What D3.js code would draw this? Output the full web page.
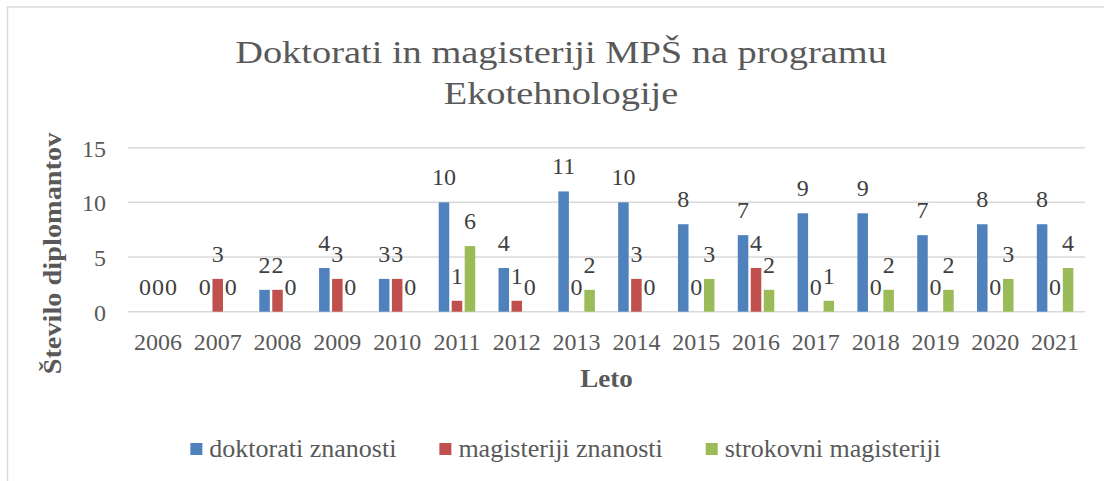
<!DOCTYPE html>
<html>
<head>
<meta charset="utf-8">
<script src="https://cdn.jsdelivr.net/npm/d3@7"></script>
<style>
  html, body { margin: 0; padding: 0; background: #fff; }
  svg { display: block; }
  svg text { font-family: "Liberation Serif", "DejaVu Serif", serif; }
</style>
</head>
<body>
<div id="app"></div>
<script>
const years = ['2006','2007','2008','2009','2010','2011','2012','2013','2014','2015','2016','2017','2018','2019','2020','2021']
const seriesNames = ['doktorati znanosti', 'magisteriji znanosti', 'strokovni magisteriji']
const doktorati = [0, 0, 2, 4, 3, 10, 4, 11, 10, 8, 7, 9, 9, 7, 8, 8]
const magisteriji = [0, 3, 2, 3, 3, 1, 1, 0, 3, 0, 4, 0, 0, 0, 0, 0]
const strokovni = [0, 0, 0, 0, 0, 6, 0, 2, 0, 3, 2, 1, 2, 2, 3, 4]
const yTicks = [0, 5, 10, 15]
const colors = ['#4F81BD', '#C0504D', '#9BBB59']

const W = 1104, H = 481
const plot = { left: 128, right: 1085, top: 147.7, bottom: 311.7 }

const svg = d3.select('#app').append('svg').attr('width', W).attr('height', H)

// chart frame
svg.append('rect')
  .attr('x', 7.5).attr('y', 7)
  .attr('width', W + 20).attr('height', H + 20)
  .attr('fill', 'none').attr('stroke', '#d9d9d9').attr('stroke-width', 1.5)

const x = d3.scaleBand().domain(years).range([plot.left, plot.right]).padding(0)
const groupW = 36.5
const xs = d3.scaleBand().domain(seriesNames).range([0, groupW]).paddingInner(0.19).paddingOuter(0)
const y = d3.scaleLinear().domain([0, 15]).range([plot.bottom, plot.top])

// gridlines
svg.append('g').selectAll('line').data(yTicks).enter().append('line')
  .attr('x1', plot.left).attr('x2', plot.right)
  .attr('y1', d => y(d)).attr('y2', d => y(d))
  .attr('stroke', '#d9d9d9').attr('stroke-width', 1.5)

// y tick labels
svg.append('g').selectAll('text').data(yTicks).enter().append('text')
  .attr('x', 106).attr('y', d => y(d) + 9)
  .attr('text-anchor', 'end')
  .attr('font-size', 24).attr('fill', '#595959')
  .text(d => d)

// x labels
svg.append('g').selectAll('text').data(years).enter().append('text')
  .attr('x', d => x(d) + x.bandwidth() / 2).attr('y', 350)
  .attr('text-anchor', 'middle')
  .attr('font-size', 24).attr('fill', '#595959')
  .text(d => d)

const table = years.map((yr, i) => ({
  year: yr,
  values: [doktorati[i], magisteriji[i], strokovni[i]].map((v, j) => ({ key: seriesNames[j], v, j }))
}))

const groups = svg.append('g').selectAll('g').data(table).enter().append('g')
  .attr('transform', d => `translate(${x(d.year) + (x.bandwidth() - groupW) / 2},0)`)

groups.selectAll('rect').data(d => d.values).enter().append('rect')
  .attr('x', d => xs(d.key)).attr('width', xs.bandwidth())
  .attr('y', d => y(d.v)).attr('height', d => y(0) - y(d.v))
  .attr('fill', d => colors[d.j])

groups.selectAll('text').data(d => d.values).enter().append('text')
  .attr('x', d => xs(d.key) + xs.bandwidth() / 2)
  .attr('y', d => y(d.v) - 17)
  .attr('text-anchor', 'middle')
  .attr('font-size', 24).attr('fill', '#404040')
  .text(d => d.v)

// stretch text horizontally (reference font is wider than Times)
function widen(sel, k) {
  sel.each(function() {
    const len = this.getComputedTextLength()
    d3.select(this).attr('textLength', len * k).attr('lengthAdjust', 'spacingAndGlyphs')
  })
}

// title
const title = svg.append('g').attr('fill', '#595959').attr('font-size', 32).attr('text-anchor', 'middle')
title.append('text').attr('x', 561).attr('y', 63).text('Doktorati in magisteriji MPŠ na programu')
title.append('text').attr('x', 561).attr('y', 104).text('Ekotehnologije')
widen(title.selectAll('text'), 1.2)

// axis titles
svg.append('text')
  .attr('x', (plot.left + plot.right) / 2).attr('y', 387)
  .attr('text-anchor', 'middle').attr('font-weight', 'bold')
  .attr('font-size', 26).attr('fill', '#595959')
  .text('Leto')
  .call(widen, 1.04)

svg.append('text')
  .attr('transform', 'translate(61,253.5) rotate(-90)')
  .attr('text-anchor', 'middle').attr('font-weight', 'bold')
  .attr('font-size', 26).attr('fill', '#595959')
  .text('Število diplomantov')
  .call(widen, 1.09)

// legend
const legend = svg.append('g')
const items = legend.selectAll('g').data(seriesNames).enter().append('g')
items.append('rect').attr('width', 12).attr('height', 12).attr('y', 443)
  .attr('fill', (d, i) => colors[i])
items.append('text').attr('x', 19).attr('y', 457)
  .attr('font-size', 26).attr('fill', '#595959')
  .text(d => d)
let widths = []
items.each(function() { widths.push(19 + d3.select(this).select('text').node().getComputedTextLength()) })
const spacing = 43
const total = d3.sum(widths) + spacing * (widths.length - 1)
let cx = 565.5 - total / 2
items.each(function(d, i) {
  d3.select(this).attr('transform', `translate(${cx},0)`)
  cx += widths[i] + spacing
})
</script>
</body>
</html>
